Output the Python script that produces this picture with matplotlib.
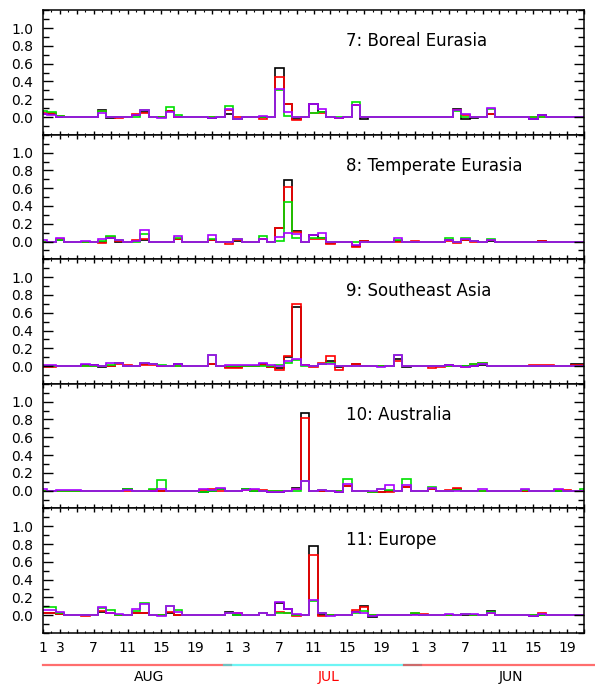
"""Five stacked step-plot panels (regions 7-11), three months side by side on x."""

import numpy as np
import matplotlib
matplotlib.use("Agg")
import matplotlib.pyplot as plt
from matplotlib.ticker import MultipleLocator, FixedLocator, FixedFormatter
from matplotlib.transforms import blended_transform_factory

plt.rcParams.update({
    "font.family": ["DejaVu Sans"],
    "font.size": 10,
})

# ---------------------------------------------------------------- data ---
# each series: 22 values AUG, 22 values JUL, 21 values JUN (one per year)
REGIONS = ["7: Boreal Eurasia", "8: Temperate Eurasia", "9: Southeast Asia",
           "10: Australia", "11: Europe"]
MONTHS = ["AUG", "JUL", "JUN"]
TICK_LABELS = ["1", "3", "7", "11", "15", "19"]
TICK_YEARS = [1, 3, 7, 11, 15, 19]

BOREAL_BLACK = [
    .03, .03, 0, 0, 0, 0, 0, .08, -.01, 0, 0, .02, .06, 0, 0, .07, 0, 0, 0, 0, -.01, 0,
    .03, -.02, 0, 0, 0, 0, .55, .15, -.02, 0, .15, .06, 0, -.01, 0, .14, -.02, 0, 0, 0, 0, 0,
    0, 0, 0, 0, 0, .09, -.02, -.01, 0, .03, 0, 0, 0, 0, -.02, .02, 0, 0, 0, 0, 0]
BOREAL_RED = [
    .04, .04, .01, 0, 0, 0, 0, .07, 0, -.01, 0, .03, .05, 0, 0, .07, 0, 0, 0, 0, 0, 0,
    .08, 0, 0, 0, -.02, 0, .45, .15, -.03, 0, .04, .04, 0, -.01, 0, .14, 0, 0, 0, 0, 0, 0,
    0, 0, 0, 0, 0, .08, .02, 0, 0, .03, 0, 0, 0, 0, 0, 0, 0, 0, 0, 0, 0]
BOREAL_GREEN = [
    .07, .06, .01, 0, 0, 0, 0, .07, 0, 0, 0, 0, .08, 0, 0, .11, .02, 0, 0, 0, 0, 0,
    .12, -.02, 0, 0, 0, 0, .30, .01, 0, 0, .05, .06, 0, 0, 0, .17, 0, 0, 0, 0, 0, 0,
    0, 0, 0, 0, 0, .07, 0, 0, 0, .09, 0, 0, 0, 0, 0, 0, 0, 0, 0, 0, 0]
BOREAL_MAGENTA = [
    .03, .02, 0, 0, 0, 0, 0, .05, 0, 0, 0, .02, .08, 0, -.01, .06, 0, 0, 0, 0, -.01, 0,
    .09, -.02, 0, 0, .01, 0, .31, .06, 0, 0, .15, .09, 0, -.01, 0, .14, 0, 0, 0, 0, 0, 0,
    0, 0, 0, 0, 0, .08, .03, 0, 0, .10, 0, 0, 0, 0, -.02, .02, 0, 0, 0, 0, 0]

TEMPERATE_BLACK = [
    0, 0, .02, 0, 0, 0, 0, -.01, .04, 0, 0, .01, .02, 0, 0, 0, .03, 0, 0, 0, .02, 0,
    -.01, .01, 0, 0, .03, 0, .15, .69, .12, 0, .07, .04, -.02, -.01, 0, -.05, .01, 0, 0, 0, .01, 0,
    0, 0, 0, 0, .02, -.01, .02, .01, 0, .01, 0, 0, 0, 0, 0, .01, 0, 0, 0, 0, 0]
TEMPERATE_RED = [
    -.01, 0, .03, 0, 0, 0, 0, -.02, .05, .01, 0, .02, .03, 0, 0, -.01, .03, 0, 0, 0, .02, 0,
    -.03, .02, 0, 0, .03, 0, .15, .61, .11, -.01, .03, .03, -.03, -.01, 0, -.06, .01, 0, 0, -.01, -.01, 0,
    .01, 0, 0, 0, .01, -.02, .02, -.01, -.01, .02, 0, 0, 0, 0, 0, .01, 0, 0, 0, 0, 0]
TEMPERATE_GREEN = [
    0, 0, .02, 0, 0, 0, 0, .01, .06, .02, 0, 0, .09, 0, 0, 0, .04, 0, 0, 0, .03, 0,
    0, .03, 0, 0, .06, 0, .01, .44, .04, 0, .04, .04, 0, 0, 0, 0, 0, 0, 0, 0, .02, 0,
    0, 0, 0, 0, .04, 0, .04, .01, 0, .03, 0, 0, 0, 0, 0, 0, 0, 0, 0, 0, 0]
TEMPERATE_MAGENTA = [
    .02, 0, .04, 0, 0, .01, 0, .03, .04, .02, 0, .01, .13, 0, 0, 0, .06, 0, 0, 0, .07, 0,
    0, .03, 0, 0, .03, 0, .05, .10, .09, 0, .07, .10, -.01, 0, 0, -.04, 0, 0, 0, 0, .04, 0,
    0, 0, 0, 0, .02, 0, .03, .01, 0, .02, 0, 0, 0, 0, 0, 0, 0, 0, 0, 0, 0]

SEASIA_BLACK = [
    0, 0, 0, 0, 0, .01, .01, -.01, 0, .03, 0, 0, .02, .02, 0, 0, .02, 0, 0, 0, .02, 0,
    -.01, -.01, 0, 0, .02, -.01, -.02, .10, .66, .01, 0, .02, .06, -.01, 0, .02, 0, 0, 0, 0, .08, -.01,
    0, 0, 0, 0, .01, 0, 0, 0, .01, 0, 0, 0, 0, 0, 0, 0, 0, 0, 0, .02, .02]
SEASIA_RED = [
    -.01, -.01, 0, 0, 0, 0, 0, 0, 0, .02, .01, 0, .01, .01, 0, 0, 0, 0, 0, 0, .02, 0,
    -.02, -.02, 0, 0, .01, -.01, -.04, .11, .70, .01, -.01, .03, .11, -.04, 0, .02, 0, 0, 0, 0, .06, 0,
    0, 0, -.02, -.01, 0, 0, -.01, .02, .03, 0, 0, 0, 0, 0, .01, .01, .01, 0, 0, .01, .01]
SEASIA_GREEN = [
    0, 0, 0, 0, 0, 0, 0, 0, .01, .03, 0, 0, .04, .02, .01, 0, 0, 0, 0, 0, .12, 0,
    0, 0, 0, 0, 0, 0, .01, .03, .07, 0, 0, .02, .03, 0, 0, 0, 0, 0, 0, 0, .13, 0,
    0, 0, 0, 0, 0, 0, 0, .02, .03, 0, 0, 0, 0, 0, 0, 0, 0, 0, 0, 0, 0]
SEASIA_MAGENTA = [
    .01, .01, 0, 0, 0, .02, .01, 0, .03, .03, 0, 0, .03, .02, 0, 0, .02, 0, 0, 0, .13, 0,
    .01, .01, .01, .01, .04, .01, 0, .06, .08, .01, 0, .02, .02, 0, 0, 0, 0, 0, -.01, 0, .12, 0,
    0, 0, 0, 0, .01, 0, -.01, 0, .02, 0, 0, 0, 0, 0, 0, 0, 0, 0, 0, 0, 0]

AUSTRALIA_BLACK = [
    0, 0, 0, 0, 0, 0, 0, 0, 0, 0, .02, 0, 0, 0, 0, 0, 0, 0, 0, -.01, 0, .02,
    0, 0, .02, 0, 0, -.01, -.01, 0, .03, .87, 0, 0, 0, -.01, .05, 0, 0, -.01, -.01, 0, 0, .04,
    0, 0, .02, 0, 0, .02, 0, 0, 0, 0, 0, 0, 0, 0, 0, 0, 0, 0, 0, 0, 0]
AUSTRALIA_RED = [
    0, 0, 0, 0, 0, 0, 0, 0, 0, 0, 0, 0, 0, .01, 0, 0, 0, 0, 0, .01, .02, 0,
    0, 0, .01, .01, .01, 0, 0, 0, .02, .82, 0, 0, 0, 0, .05, 0, 0, -.02, -.02, -.02, 0, .04,
    0, 0, .02, 0, .01, .03, 0, 0, 0, 0, 0, 0, 0, 0, 0, 0, 0, .01, .01, 0, 0]
AUSTRALIA_GREEN = [
    0, 0, 0, 0, 0, 0, 0, 0, 0, 0, .02, 0, 0, .02, .12, 0, 0, 0, 0, -.01, 0, .02,
    0, 0, .02, 0, 0, 0, 0, 0, 0, .11, 0, .01, 0, 0, .13, 0, 0, -.01, .02, .01, 0, .13,
    0, 0, .04, 0, 0, .01, 0, 0, 0, 0, 0, 0, 0, .01, 0, 0, 0, 0, 0, 0, .02]
AUSTRALIA_MAGENTA = [
    .02, 0, .01, .01, .01, 0, 0, 0, 0, 0, .01, 0, 0, 0, .02, 0, 0, 0, 0, .02, .01, .03,
    0, 0, .01, .02, 0, -.01, -.01, 0, .02, .11, 0, .01, 0, -.01, .07, 0, 0, 0, .02, .06, 0, .06,
    0, 0, .03, 0, 0, 0, 0, 0, .02, 0, 0, 0, 0, .02, 0, 0, 0, .02, 0, 0, 0]

EUROPE_BLACK = [
    .03, .02, .01, 0, 0, 0, 0, .04, .02, 0, 0, .02, .03, 0, 0, .03, 0, 0, 0, 0, 0, 0,
    .04, 0, 0, 0, .03, 0, .14, .07, 0, 0, .78, 0, 0, 0, 0, .04, .10, -.02, 0, 0, 0, 0,
    .01, 0, 0, 0, 0, 0, 0, 0, 0, .05, 0, 0, 0, 0, -.01, 0, 0, 0, 0, 0, 0]
EUROPE_RED = [
    .03, .03, .01, 0, 0, -.01, 0, .05, .03, 0, 0, .03, .03, 0, 0, .04, 0, 0, 0, 0, 0, 0,
    .03, .02, 0, 0, .02, 0, .04, .02, -.01, 0, .68, -.01, 0, 0, 0, .06, .09, 0, 0, 0, 0, 0,
    .02, .01, 0, 0, 0, 0, .01, 0, 0, .02, 0, 0, 0, 0, 0, .02, 0, 0, 0, 0, 0]
EUROPE_GREEN = [
    .09, .09, .03, 0, 0, 0, 0, .08, .06, 0, 0, .05, .14, 0, 0, .10, .06, 0, 0, 0, 0, 0,
    .02, 0, 0, 0, .02, 0, .03, .02, 0, 0, .16, .02, 0, 0, 0, .02, .05, 0, 0, 0, 0, 0,
    .02, 0, 0, 0, 0, 0, .01, 0, 0, .04, 0, 0, 0, 0, 0, 0, 0, 0, 0, 0, 0]
EUROPE_MAGENTA = [
    .06, .06, .04, 0, 0, 0, 0, .09, .03, .01, 0, .07, .13, 0, -.01, .10, .04, 0, 0, 0, 0, 0,
    .03, .02, 0, 0, .03, 0, .15, .07, .01, 0, .17, .03, -.01, 0, 0, .04, .03, -.01, 0, 0, 0, 0,
    0, 0, 0, 0, .01, 0, .01, .01, 0, .02, 0, 0, 0, 0, -.01, .01, 0, 0, 0, 0, 0]

PANELS = [
    (BOREAL_BLACK, BOREAL_RED, BOREAL_GREEN, BOREAL_MAGENTA),
    (TEMPERATE_BLACK, TEMPERATE_RED, TEMPERATE_GREEN, TEMPERATE_MAGENTA),
    (SEASIA_BLACK, SEASIA_RED, SEASIA_GREEN, SEASIA_MAGENTA),
    (AUSTRALIA_BLACK, AUSTRALIA_RED, AUSTRALIA_GREEN, AUSTRALIA_MAGENTA),
    (EUROPE_BLACK, EUROPE_RED, EUROPE_GREEN, EUROPE_MAGENTA),
]

LINE_COLORS = ["black", "#ff0000", "#00e000", "#a800ff"]
MONTH_LEN = 22


def main():
    fig, axes = plt.subplots(5, 1, figsize=(5.95, 6.85), dpi=100, sharex=True,
                             gridspec_kw={"hspace": 0})
    fig.subplots_adjust(left=0.0723, right=0.9815, top=0.985, bottom=0.0759)

    # year tick positions within each month block (x = 0 is year 1 of AUG)
    tick_pos = [m * MONTH_LEN + (y - 1) for m in range(3) for y in TICK_YEARS]
    tick_lab = TICK_LABELS * 3

    for ax, name, series in zip(axes, REGIONS, PANELS):
        for vals, col in zip(series, LINE_COLORS):
            vals = np.asarray(vals, dtype=float)
            edges = np.arange(len(vals) + 1) - 0.5
            ax.stairs(vals, edges, baseline=None, color=col, lw=1.2)

        ax.set_xlim(0, 64)
        ax.set_ylim(-0.2, 1.2)
        ax.yaxis.set_major_locator(FixedLocator([0, .2, .4, .6, .8, 1.0]))
        ax.yaxis.set_minor_locator(MultipleLocator(0.1))
        ax.set_yticklabels(["0.0", "0.2", "0.4", "0.6", "0.8", "1.0"])
        ax.xaxis.set_major_locator(MultipleLocator(2))
        ax.xaxis.set_minor_locator(MultipleLocator(1))

        ax.tick_params(axis="y", which="major", direction="in", length=7,
                       width=1, left=True, right=True, labelsize=10, pad=7)
        ax.tick_params(axis="y", which="minor", direction="in", length=4,
                       width=1, left=True, right=True)
        ax.tick_params(axis="x", which="major", direction="in", length=3,
                       width=1, top=True, bottom=True)
        ax.tick_params(axis="x", which="minor", direction="in", length=1.5,
                       width=0.8, top=True, bottom=True)
        for sp in ax.spines.values():
            sp.set_linewidth(1.1)

        ax.text(35.9, 0.85, name, fontsize=12, ha="left", va="center")

    # bottom axis: labelled years, every 2nd tick carries a label or nothing
    bot = axes[-1]
    major = np.arange(0, 65, 2)
    labels = [tick_lab[tick_pos.index(p)] if p in tick_pos else "" for p in major]
    bot.xaxis.set_major_locator(FixedLocator(major))
    bot.xaxis.set_major_formatter(FixedFormatter(labels))
    bot.tick_params(axis="x", labelsize=10, pad=6)

    # month bar under the axis
    tr = blended_transform_factory(bot.transData, fig.transFigure)
    y_bar = 0.029
    bot.plot([0, 22.2], [y_bar, y_bar], transform=tr, color="#ff2020",
             alpha=0.65, lw=1.6, clip_on=False)
    bot.plot([21.4, 44.7], [y_bar, y_bar], transform=tr, color="#20f0f0",
             alpha=0.65, lw=1.6, clip_on=False)
    bot.plot([42.7, 65.4], [y_bar, y_bar], transform=tr, color="#ff2020",
             alpha=0.65, lw=1.6, clip_on=False)

    month_x = [12.5, 33.8, 55.4]
    month_col = ["black", "red", "black"]
    for mx, mname, mc in zip(month_x, MONTHS, month_col):
        fig.text(0, 0.011, mname, transform=tr, ha="center", va="center",
                 fontsize=10, color=mc).set_x(mx)

    fig.savefig("out.png", dpi=100)


if __name__ == "__main__":
    main()
